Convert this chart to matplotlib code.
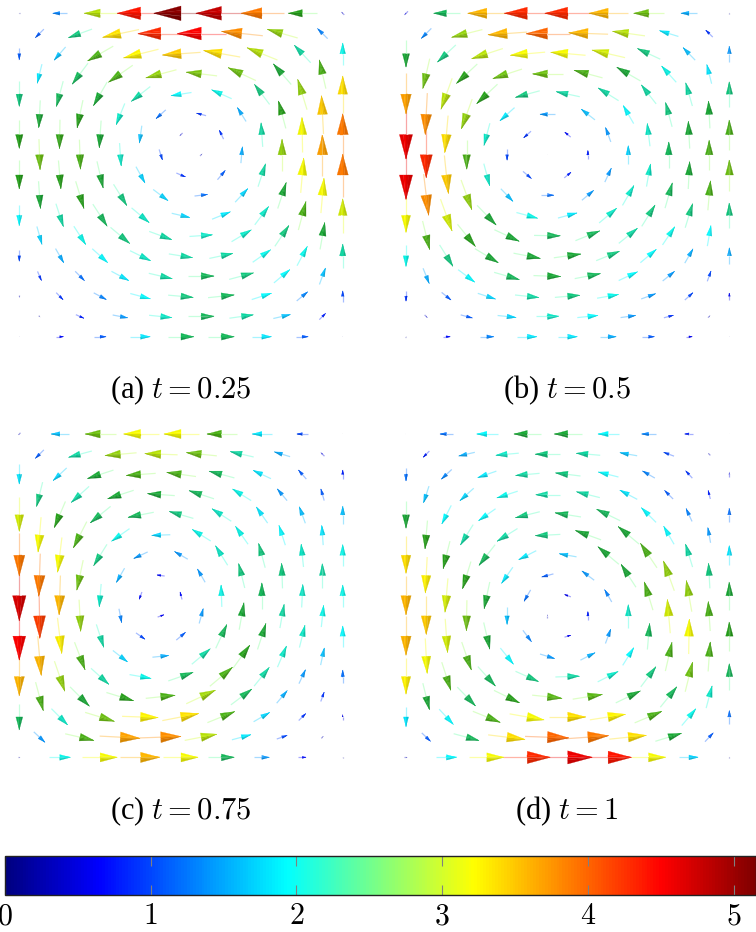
import numpy as np
import matplotlib
matplotlib.use("Agg")
import matplotlib.pyplot as plt
from matplotlib.collections import LineCollection, PolyCollection
from matplotlib.colors import LinearSegmentedColormap, Normalize
from matplotlib.cm import ScalarMappable

plt.rcParams['font.family'] = ['Liberation Serif', 'DejaVu Serif']
plt.rcParams['mathtext.fontset'] = 'cm'

W, H = 756, 932

# magnitude and direction (degrees, 0 = right, 90 = up), read row by row from the top.
# odd rows have 8 points, they sit between the points of the even rows
MAG_A = [
    [0.1, 1.3, 3.0, 4.4, 5.1, 4.8, 3.9, 2.6, 0.4],
    [1.1, 2.3, 3.4, 4.3, 4.5, 3.8, 2.9, 1.3],
    [1.1, 1.6, 2.7, 3.3, 3.5, 3.4, 3.0, 2.2, 2.0],
    [1.8, 2.4, 2.7, 2.9, 2.85, 2.8, 2.5, 2.7],
    [2.3, 2.4, 2.5, 2.2, 1.9, 2.0, 2.3, 2.9, 3.4],
    [2.5, 2.6, 2.1, 1.2, 0.9, 1.5, 2.6, 3.5],
    [2.6, 2.65, 2.5, 1.6, 0.4, 0.9, 2.2, 3.2, 3.9],
    [2.8, 2.7, 2.1, 1.0, 0.3, 1.5, 2.9, 3.7],
    [2.6, 2.6, 2.5, 1.7, 0.9, 1.1, 2.2, 3.2, 3.9],
    [2.5, 2.6, 2.3, 1.7, 1.2, 1.7, 2.5, 3.2],
    [1.9, 2.2, 2.4, 2.1, 1.7, 1.8, 2.1, 2.7, 3.1],
    [1.7, 2.0, 2.3, 2.2, 2.1, 2.1, 2.3, 2.5],
    [1.0, 1.5, 1.9, 2.1, 2.2, 2.2, 2.0, 2.0, 2.2],
    [0.9, 1.2, 1.8, 2.2, 2.4, 2.3, 1.9, 1.6],
    [0.3, 0.9, 1.3, 1.9, 2.3, 2.4, 1.9, 1.3, 1.0],
    [0.2, 0.8, 1.4, 2.1, 2.4, 2.2, 1.6, 0.8],
    [0.1, 0.7, 1.1, 1.8, 2.4, 2.4, 1.8, 1.1, 0.1],
]
ANG_A = [
    [180, 180, 180, 180, 180, 180, 180, 180, 135],
    [225, 200, 192, 180, 180, 174, 164, 135],
    [270, 229, 210, 194, 184, 170, 158, 133, 90],
    [256, 233, 215, 195, 173, 155, 131, 103],
    [270, 255, 240, 218, 189, 156, 127, 107, 90],
    [267, 258, 248, 222, 165, 122, 105, 93],
    [270, 269, 266, 262, 225, 115, 94, 91, 90],
    [272, 272, 274, 287, 45, 85, 90, 90],
    [270, 275, 283, 299, 337, 50, 72, 85, 90],
    [274, 287, 302, 323, 7, 47, 72, 85],
    [270, 288, 303, 320, 347, 22, 53, 75, 90],
    [286, 303, 320, 340, 4, 31, 56, 80],
    [270, 300, 318, 334, 351, 12, 35, 62, 90],
    [293, 315, 332, 347, 0, 15, 40, 70],
    [270, 314, 332, 345, 355, 6, 18, 40, 90],
    [315, 336, 349, 354, 0, 8, 13, 45],
    [0, 0, 0, 0, 0, 0, 0, 0, 90],
]

MAG_B = [
    [0.5, 2.4, 3.6, 4.3, 4.3, 3.6, 2.8, 1.5, 0.1],
    [1.3, 2.9, 3.6, 4.0, 3.6, 3.0, 1.8, 0.9],
    [2.5, 2.3, 3.0, 3.2, 3.2, 3.1, 2.3, 1.6, 1.4],
    [2.8, 2.6, 2.8, 2.8, 2.7, 2.5, 2.0, 1.8],
    [3.7, 3.0, 2.6, 2.3, 2.2, 2.2, 2.2, 2.2, 2.3],
    [3.8, 2.9, 1.8, 1.4, 1.6, 1.9, 2.3, 2.5],
    [4.6, 3.4, 2.1, 0.9, 0.7, 1.4, 2.1, 2.5, 2.7],
    [4.3, 2.7, 1.0, 0.05, 0.8, 1.7, 2.4, 2.7],
    [4.6, 3.5, 2.1, 1.0, 0.8, 1.4, 2.1, 2.5, 2.8],
    [3.8, 2.9, 1.6, 1.2, 1.4, 2.1, 2.4, 2.7],
    [3.2, 3.1, 2.5, 2.0, 1.8, 2.1, 2.3, 2.3, 2.3],
    [2.7, 2.6, 2.5, 2.4, 2.4, 2.2, 2.0, 1.9],
    [2.0, 2.3, 2.5, 2.5, 2.5, 2.3, 1.9, 1.5, 1.5],
    [1.5, 1.9, 2.4, 2.5, 2.4, 1.9, 1.4, 1.0],
    [0.9, 1.1, 1.7, 2.2, 2.3, 2.0, 1.4, 1.0, 0.6],
    [0.4, 1.1, 1.7, 2.1, 1.9, 1.4, 0.9, 0.3],
    [0.1, 0.7, 1.3, 1.8, 1.8, 1.5, 1.1, 0.6, 0.1],
]
ANG_B = [
    [225, 180, 180, 180, 180, 180, 180, 180, 90],
    [225, 194, 184, 180, 178, 172, 163, 135],
    [270, 223, 198, 185, 175, 167, 155, 134, 90],
    [257, 223, 198, 180, 165, 150, 132, 104],
    [270, 250, 223, 195, 168, 148, 128, 106, 90],
    [267, 250, 222, 180, 142, 120, 105, 93],
    [270, 265, 255, 222, 140, 110, 97, 93, 90],
    [270, 270, 270, 0, 90, 90, 90, 90],
    [270, 276, 285, 320, 40, 65, 80, 87, 90],
    [277, 290, 314, 0, 40, 60, 74, 85],
    [270, 290, 314, 345, 15, 40, 58, 73, 90],
    [284, 309, 335, 359, 22, 39, 56, 80],
    [270, 302, 329, 349, 8, 22, 40, 60, 90],
    [292, 323, 344, 358, 11, 25, 39, 70],
    [270, 321, 342, 354, 5, 10, 20, 42, 90],
    [315, 345, 354, 0, 6, 8, 15, 45],
    [0, 0, 0, 0, 0, 0, 0, 0, 90],
]

MAG_C = [
    [0.3, 1.6, 2.8, 3.2, 3.2, 2.7, 1.8, 1.0, 0.05],
    [1.1, 2.2, 2.9, 3.0, 2.8, 2.2, 1.5, 0.5],
    [1.8, 1.7, 2.5, 2.7, 2.7, 2.4, 1.8, 1.1, 0.8],
    [2.3, 2.2, 2.5, 2.5, 2.4, 2.0, 1.4, 1.1],
    [3.1, 2.6, 2.4, 2.4, 2.3, 2.1, 1.8, 1.6, 1.6],
    [3.2, 2.7, 2.0, 1.7, 2.0, 2.0, 1.9, 1.8],
    [3.9, 3.2, 2.3, 1.4, 1.4, 2.1, 2.3, 2.1, 2.0],
    [3.9, 2.8, 1.5, 0.7, 1.4, 2.3, 2.3, 2.2],
    [4.7, 3.6, 2.1, 0.7, 0.7, 2.0, 2.4, 2.1, 2.0],
    [4.2, 2.9, 1.3, 0.6, 1.4, 2.5, 2.2, 2.0],
    [4.5, 3.3, 2.2, 1.0, 1.1, 2.4, 2.5, 2.1, 1.9],
    [3.6, 2.7, 1.7, 1.5, 2.2, 2.6, 2.1, 1.6],
    [3.6, 2.9, 2.2, 2.0, 2.4, 2.7, 2.2, 1.4, 1.2],
    [2.7, 2.5, 2.6, 2.7, 2.95, 2.4, 1.5, 0.9],
    [2.4, 2.1, 2.8, 3.3, 3.4, 2.7, 1.7, 0.9, 0.5],
    [1.4, 2.7, 3.7, 3.8, 3.0, 1.8, 1.0, 0.3],
    [0.2, 2.0, 3.2, 3.6, 3.2, 2.4, 1.4, 0.7, 0.05],
]
ANG_C = [
    [225, 180, 180, 180, 180, 180, 180, 180, 90],
    [225, 195, 185, 178, 174, 167, 163, 135],
    [270, 223, 198, 184, 172, 165, 155, 131, 90],
    [256, 222, 198, 176, 162, 148, 130, 106],
    [270, 247, 219, 191, 164, 147, 125, 110, 90],
    [265, 243, 215, 182, 148, 125, 108, 94],
    [270, 263, 238, 205, 150, 122, 105, 96, 90],
    [268, 258, 240, 172, 120, 104, 92, 90],
    [270, 268, 265, 250, 105, 92, 90, 87, 90],
    [271, 273, 281, 20, 75, 80, 80, 84],
    [270, 277, 288, 325, 40, 65, 72, 76, 90],
    [275, 291, 322, 6, 40, 54, 67, 78],
    [270, 289, 318, 350, 19, 40, 51, 65, 90],
    [285, 315, 343, 6, 25, 37, 50, 70],
    [270, 315, 343, 358, 11, 22, 30, 45, 90],
    [317, 347, 357, 2, 11, 15, 19, 45],
    [0, 0, 0, 0, 0, 0, 0, 0, 90],
]

MAG_D = [
    [0.05, 1.2, 1.9, 2.5, 2.5, 1.9, 1.3, 0.8, 0.02],
    [0.8, 1.5, 2.1, 2.3, 2.2, 1.6, 1.0, 0.3],
    [1.2, 1.3, 1.8, 2.2, 2.3, 1.9, 1.3, 0.9, 0.5],
    [1.6, 1.7, 2.0, 2.2, 2.2, 1.8, 1.1, 0.8],
    [2.5, 1.9, 1.9, 2.3, 2.4, 2.4, 1.9, 1.3, 1.2],
    [2.6, 2.2, 2.2, 2.3, 2.5, 2.5, 1.9, 1.4],
    [3.4, 2.6, 2.4, 1.8, 1.6, 2.5, 2.7, 2.2, 1.8],
    [3.3, 2.6, 1.8, 1.1, 1.4, 2.5, 2.9, 2.3],
    [3.6, 3.1, 2.5, 1.2, 0.6, 1.3, 2.7, 2.9, 2.5],
    [3.5, 2.8, 1.6, 0.3, 0.8, 2.1, 3.1, 2.7],
    [3.6, 3.1, 2.5, 1.3, 0.6, 1.4, 2.4, 3.2, 2.6],
    [3.2, 2.7, 1.9, 1.4, 1.5, 1.9, 2.7, 2.7],
    [3.3, 2.7, 2.4, 2.3, 2.2, 2.1, 2.3, 2.8, 2.4],
    [2.5, 2.4, 2.6, 2.75, 2.75, 2.5, 2.4, 2.1],
    [1.8, 1.9, 2.7, 3.2, 3.4, 3.3, 2.7, 2.0, 1.2],
    [1.1, 2.4, 3.4, 4.0, 3.9, 3.4, 2.5, 1.1],
    [0.3, 1.9, 3.2, 4.3, 4.6, 4.4, 3.2, 1.7, 0.1],
]
ANG_D = [
    [180, 180, 180, 180, 180, 180, 180, 180, 90],
    [225, 193, 185, 180, 175, 170, 160, 135],
    [270, 223, 199, 185, 173, 166, 150, 132, 90],
    [252, 222, 198, 180, 166, 152, 135, 105],
    [270, 243, 215, 194, 171, 154, 135, 115, 90],
    [265, 238, 212, 183, 160, 140, 120, 100],
    [270, 256, 232, 207, 170, 140, 124, 107, 90],
    [267, 253, 235, 195, 143, 123, 110, 93],
    [270, 265, 258, 240, 160, 120, 107, 100, 90],
    [270, 269, 270, 90, 90, 90, 95, 94],
    [270, 274, 283, 307, 18, 70, 85, 89, 90],
    [273, 289, 309, 343, 27, 58, 77, 86],
    [270, 288, 312, 336, 2, 27, 53, 76, 90],
    [284, 314, 334, 354, 9, 26, 51, 75],
    [270, 313, 338, 350, 0, 9, 23, 50, 90],
    [316, 345, 353, 358, 4, 6, 17, 47],
    [0, 0, 0, 0, 0, 0, 0, 0, 90],
]

CAPTIONS = ['(a) $t = 0.25$', '(b) $t = 0.5$', '(c) $t = 0.75$', '(d) $t = 1$']
CBAR_TICKS = [0, 1, 2, 3, 4, 5]
VMAX = 5.154

# same stops as the pgfplots jet map
jet = LinearSegmentedColormap.from_list('pgfjet', [
    (0.0, (0, 0, 0.5)), (1/8, (0, 0, 1)), (3/8, (0, 1, 1)),
    (5/8, (1, 1, 0)), (7/8, (1, 0, 0)), (1.0, (0.5, 0, 0))])
norm = Normalize(0, VMAX)

HEAD = 5.3 / 323   # head length per unit of magnitude, in axes units
TAIL = 5.6 / 323
WIDTH = 0.27       # half width of head / head length
STRIPS = [-1, -0.4, 0, 0.4, 1]
LIGHT = np.array([-0.55, 0.83])


def add_panel(box, mags, angs, caption, cap_xy):
    x0, y0, size = box
    ax = fig.add_axes([x0 / W, 1 - (y0 + size) / H, size / W, size / H])
    ax.set_xlim(0, 1)
    ax.set_ylim(0, 1)
    ax.axis('off')

    segs, seg_cols, polys, poly_cols, poly_lw = [], [], [], [], []
    for r, (row_m, row_a) in enumerate(zip(mags, angs)):
        y = 1 - r / 16
        start = 0 if r % 2 == 0 else 1
        for c, (m, a) in enumerate(zip(row_m, row_a)):
            x = (start + 2 * c) / 16
            d = np.array([np.cos(np.radians(a)), np.sin(np.radians(a))])
            n = np.array([-d[1], d[0]])
            p = np.array([x, y])
            col = np.array(jet(norm(m)))[:3]
            segs.append([p - d * m * TAIL, p])
            seg_cols.append((*col, 0.35))
            # cone, in strips so the lit side is brighter
            col = col - 0.8 * col.min()
            tip = p + d * m * HEAD
            half = m * HEAD * WIDTH
            for s0, s1 in zip(STRIPS[:-1], STRIPS[1:]):
                lit = np.sign(s0 + s1) * np.dot(n, LIGHT)
                shade = 1.0 + 0.1 * lit - 0.08 * abs(s0 + s1) / 1.4
                polys.append([tip, p + n * half * s0, p + n * half * s1])
                poly_cols.append(np.clip(col * shade, 0, 1))
                # no edge on the tiny ones or they turn into dark dots
                poly_lw.append(0.2 if m >= 0.6 else 0)

    ax.add_collection(LineCollection(segs, colors=seg_cols, linewidths=0.9, clip_on=False, zorder=1))
    ax.add_collection(PolyCollection(polys, facecolors=poly_cols, edgecolors='face', linewidths=poly_lw,
                                     clip_on=False, zorder=2))
    fig.text(cap_xy[0] / W, 1 - cap_xy[1] / H, caption, ha='center', va='center',
             fontsize=22, color='black')


fig = plt.figure(figsize=(W / 100, H / 100), dpi=100)

add_panel((19.3, 13.3, 323.4), MAG_A, ANG_A, CAPTIONS[0], (181, 390))
add_panel((406.0, 13.3, 323.4), MAG_B, ANG_B, CAPTIONS[1], (567, 390))
add_panel((19.3, 434.0, 323.4), MAG_C, ANG_C, CAPTIONS[2], (181, 811))
add_panel((406.0, 434.0, 323.4), MAG_D, ANG_D, CAPTIONS[3], (567, 811))

# colorbar along the bottom, runs off the right edge
cax = fig.add_axes([5 / W, 1 - 894.5 / H, 751 / W, 38.5 / H])
cb = fig.colorbar(ScalarMappable(norm=norm, cmap=jet), cax=cax, orientation='horizontal')
cb.set_ticks(CBAR_TICKS)
cb.set_ticklabels([f'${t}$' for t in CBAR_TICKS])
cax.tick_params(axis='x', which='both', direction='in', top=True, bottom=True,
                length=7, width=0.8, color='#808080', pad=7, labelsize=21.5)
cax.xaxis.set_tick_params(which='minor', length=0)
cb.outline.set_linewidth(1.0)
cb.outline.set_edgecolor('#222222')

fig.savefig('out.png', dpi=100)
